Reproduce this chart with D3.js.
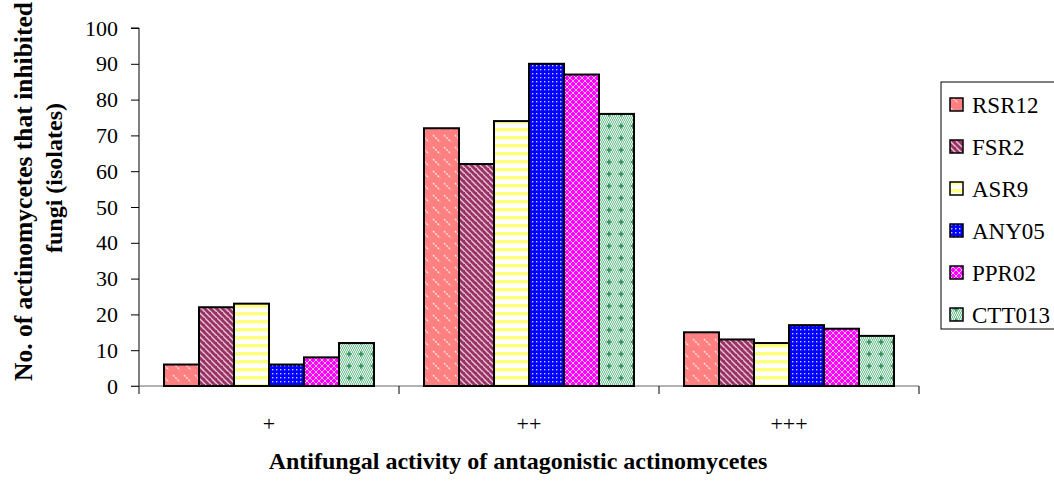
<!DOCTYPE html>
<html>
<head>
<meta charset="utf-8">
<script src="https://cdn.jsdelivr.net/npm/d3@7"></script>
<style>
  html, body { margin: 0; padding: 0; background: #fff; font-family: "Liberation Serif"; }
  svg { display: block; }
</style>
</head>
<body>
<div id="chart"></div>
<script>
// Activity classes on the x axis
const categories = ["+", "++", "+++"];
// Isolates
const seriesNames = ["RSR12", "FSR2", "ASR9", "ANY05", "PPR02", "CTT013"];
// Number of antagonistic actinomycetes per class, one array per isolate
const RSR12 = [6, 72, 15];
const FSR2 = [22, 62, 13];
const ASR9 = [23, 74, 12];
const ANY05 = [6, 90, 17];
const PPR02 = [8, 87, 16];
const CTT013 = [12, 76, 14];
const yTicks = [0, 10, 20, 30, 40, 50, 60, 70, 80, 90, 100];

const seriesValues = [RSR12, FSR2, ASR9, ANY05, PPR02, CTT013];

const W = 1054, H = 483;
const plot = { left: 139, right: 919, top: 28, bottom: 386 };
const SERIF = "Liberation Serif";

const svg = d3.select("#chart").append("svg")
  .attr("width", W).attr("height", H)
  .attr("font-family", SERIF);

const defs = svg.append("defs");

// Fill patterns for each isolate
function pat(id, w, h) {
  return defs.append("pattern").attr("id", id)
    .attr("patternUnits", "userSpaceOnUse").attr("width", w).attr("height", h);
}
// RSR12: salmon with short white diagonal dashes
{
  const p = pat("p0", 11, 12);
  p.append("rect").attr("width", 11).attr("height", 12).attr("fill", "#FF8080");
  p.append("line").attr("x1", 1).attr("y1", 3).attr("x2", 8).attr("y2", 10)
    .attr("stroke", "#FFE0E0").attr("stroke-width", 1.4).attr("stroke-dasharray", "2 1.2");
}
// FSR2: maroon with light downward diagonal stripes
{
  const p = pat("p1", 6, 6);
  p.append("rect").attr("width", 6).attr("height", 6).attr("fill", "#993366");
  p.append("path").attr("d", "M-1,-1 L7,7 M-4,2 L2,8 M4,-4 L10,2")
    .attr("stroke", "#E8C4D6").attr("stroke-width", 1.4);
}
// ASR9: pale yellow horizontal stripes
{
  const p = pat("p2", 8, 8);
  p.append("rect").attr("width", 8).attr("height", 8).attr("fill", "#FFFFFF");
  p.append("rect").attr("y", 0).attr("width", 8).attr("height", 3.5).attr("fill", "#FFFF80");
}
// ANY05: blue with white dot grid
{
  const p = pat("p3", 4, 4);
  p.append("rect").attr("width", 4).attr("height", 4).attr("fill", "#0000FF");
  p.append("rect").attr("x", 1).attr("y", 1).attr("width", 1.4).attr("height", 1.4).attr("fill", "#C8C8FF");
}
// PPR02: magenta with white lattice
{
  const p = pat("p4", 6, 6);
  p.append("rect").attr("width", 6).attr("height", 6).attr("fill", "#FF00FF");
  p.append("path").attr("d", "M0,3 L3,0 L6,3 L3,6 Z")
    .attr("fill", "none").attr("stroke", "#FFB0FF").attr("stroke-width", 1);
}
// CTT013: green check with darker green crosses
{
  const p = pat("p5", 12, 12);
  p.append("rect").attr("width", 12).attr("height", 12).attr("fill", "#7CC49A");
  for (let i = 0; i < 12; i += 2) {
    for (let j = 0; j < 12; j += 2) {
      p.append("rect").attr("x", i + (j % 4 === 0 ? 0 : 1)).attr("y", j).attr("width", 1).attr("height", 1).attr("fill", "#E0F2E8");
      p.append("rect").attr("x", i + (j % 4 === 0 ? 1 : 0)).attr("y", j + 1).attr("width", 1).attr("height", 1).attr("fill", "#E0F2E8");
    }
  }
  p.append("path").attr("d", "M6,3.5 V8.5 M3.5,6 H8.5")
    .attr("stroke", "#2E8B57").attr("stroke-width", 1.6);
}

const x0 = d3.scaleBand().domain(categories)
  .range([plot.left, plot.right]).paddingInner(0).paddingOuter(0);
const groupPad = 25;
const x1 = d3.scaleBand().domain(seriesNames)
  .range([groupPad, x0.bandwidth() - groupPad]).padding(0);
const y = d3.scaleLinear().domain([0, 100]).range([plot.bottom, plot.top]);

// Y axis
const yAxis = svg.append("g")
  .attr("transform", `translate(${plot.left},0)`)
  .call(d3.axisLeft(y).tickValues(yTicks).tickSize(8).tickPadding(13));
yAxis.attr("font-family", SERIF).attr("font-size", 22);
yAxis.select(".domain").attr("stroke", "#000").attr("d", `M-8,${plot.top}H0V${plot.bottom}`);
yAxis.selectAll(".tick line").attr("stroke", "#000");
yAxis.selectAll(".tick text")
  .attr("font-family", SERIF).style("font-family", SERIF)
  .attr("font-size", 22).attr("fill", "#000");

// X axis
const xAxis = svg.append("g")
  .attr("transform", `translate(0,${plot.bottom})`);
xAxis.append("line").attr("x1", plot.left - 8).attr("x2", plot.right)
  .attr("stroke", "#666").attr("stroke-width", 1.2);
const seps = [plot.left].concat(categories.map(c => x0(c) + x0.bandwidth()));
xAxis.selectAll("line.sep").data(seps).join("line").attr("class", "sep")
  .attr("x1", d => d).attr("x2", d => d).attr("y1", 0).attr("y2", 8)
  .attr("stroke", "#000");
xAxis.selectAll("text.cat").data(categories).join("text").attr("class", "cat")
  .attr("x", d => x0(d) + x0.bandwidth() / 2).attr("y", 45)
  .attr("text-anchor", "middle")
  .attr("font-family", SERIF).style("font-family", SERIF)
  .attr("font-size", 22).text(d => d);

// Bars
const groups = svg.append("g").selectAll("g")
  .data(categories).join("g")
  .attr("transform", d => `translate(${x0(d)},0)`);
groups.selectAll("rect")
  .data((c, ci) => seriesNames.map((s, si) => ({ s, si, v: seriesValues[si][ci] })))
  .join("rect")
  .attr("x", d => x1(d.s))
  .attr("y", d => y(d.v))
  .attr("width", x1.bandwidth())
  .attr("height", d => y(0) - y(d.v))
  .attr("fill", d => `url(#p${d.si})`)
  .attr("stroke", "#000").attr("stroke-width", 2);

// Legend
const lg = svg.append("g");
lg.append("rect").attr("x", 941).attr("y", 82).attr("width", 130).attr("height", 247)
  .attr("fill", "#fff").attr("stroke", "#000").attr("stroke-width", 1);
const items = lg.selectAll("g.item").data(seriesNames).join("g").attr("class", "item")
  .attr("transform", (d, i) => `translate(950,${105 + i * 42})`);
items.append("rect").attr("x", 0).attr("y", -7).attr("width", 13).attr("height", 13)
  .attr("fill", (d, i) => `url(#p${i})`).attr("stroke", "#000").attr("stroke-width", 1.5);
items.append("text").attr("x", 22).attr("y", 8)
  .attr("font-family", SERIF).style("font-family", SERIF)
  .attr("font-size", 23).text(d => d);

// Axis titles
svg.append("text")
  .attr("x", 518).attr("y", 469).attr("text-anchor", "middle")
  .attr("font-family", SERIF).style("font-family", SERIF)
  .attr("font-size", 24).attr("font-weight", "bold")
  .text("Antifungal activity of antagonistic actinomycetes");

const yt1 = svg.append("text")
  .attr("transform", "translate(32,381) rotate(-90)")
  .attr("text-anchor", "start")
  .attr("font-family", SERIF).style("font-family", SERIF)
  .attr("font-size", 25.5).attr("font-weight", "bold")
  .text("No. of actinomycetes that inhibited");
const yt2 = svg.append("text")
  .attr("transform", "translate(62,178) rotate(-90)")
  .attr("text-anchor", "middle")
  .attr("font-family", SERIF).style("font-family", SERIF)
  .attr("font-size", 24).attr("font-weight", "bold")
  .text("fungi (isolates)");
</script>
</body>
</html>
